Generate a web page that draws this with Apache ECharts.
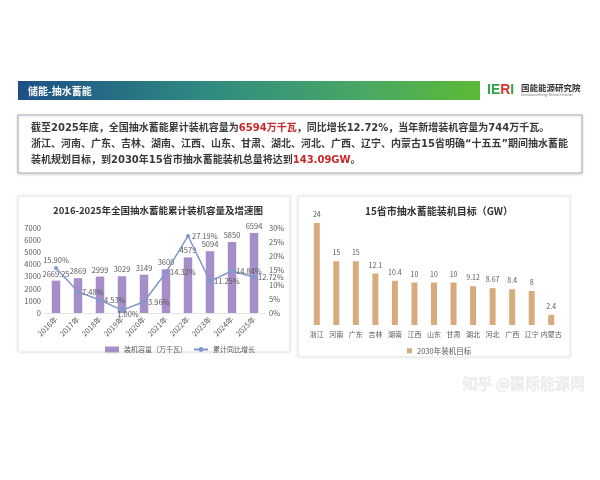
<!DOCTYPE html>
<html lang="zh">
<head>
	<meta charset="UTF-8">
	<title>抽水蓄能</title>
	<script src="https://cdn.jsdelivr.net/npm/echarts@6/dist/echarts.min.js"></script>
	<style>
		body{ margin:0; background:#fff; }
	</style>
</head>
<body>
	<div id="main" style="width:600px;height:480px;"></div>
<script type="text/javascript">
// 2016-2025 全国累计装机
var years = ['2016年','2017年','2018年','2019年','2020年','2021年','2022年','2023年','2024年','2025年'];
var capacity = [2669.25, 2869, 2999, 3029, 3149, 3600, 4579, 5094, 5850, 6594];
var growth = [15.90, 7.48, 4.53, 1.00, 3.96, 14.32, 27.19, 11.25, 14.84, 12.72];

// 15省市 2030 目标
var provinces = ['浙江','河南','广东','吉林','湖南','江西','山东','甘肃','湖北','河北','广西','辽宁','内蒙古'];
var target2030 = [24, 15, 15, 12.1, 10.4, 10, 10, 10, 9.12, 8.67, 8.4, 8, 2.4];

var FONT = '"Noto Sans CJK SC", "Noto Sans", sans-serif';
var PFONT = '"DejaVu Sans", "Noto Sans CJK SC", sans-serif';
var grey = '#595959';

var mychart = echarts.init(document.getElementById('main'));

// 第一个点的标签放在上方，其余放右侧
var growthData = growth.map(function (v, i) {
	if (i == 0) return { value: v, label: { position: 'top' } };
	if (i == 3) return { value: v, label: { position: 'bottom', offset: [6, -4] } };
	return v;
});

var option = {
	backgroundColor: '#fff',
	textStyle: { fontFamily: FONT },
	title: [
		{
			text: '2016-2025年全国抽水蓄能累计装机容量及增速图',
			left: 153, top: 201, textAlign: 'center',
			textStyle: { fontSize: 9.5, fontWeight: 'bold', color: '#333', fontFamily: FONT }
		},
		{
			text: '15省市抽水蓄能装机目标（GW）',
			left: 434, top: 201, textAlign: 'center',
			textStyle: { fontSize: 10, fontWeight: 'bold', color: '#333', fontFamily: FONT }
		}
	],
	legend: [
		{
			left: 100, top: 341, itemWidth: 14, itemHeight: 6, itemGap: 6,
			textStyle: { fontSize: 7, color: grey },
			data: [
				{ name: '装机容量（万千瓦）', icon: 'rect' },
				{ name: '累计同比增长' }
			]
		},
		{
			left: 402, top: 342, itemWidth: 5, itemHeight: 5,
			textStyle: { fontSize: 7.5, color: grey },
			data: [{ name: '2030年装机目标', icon: 'rect' }]
		}
	],
	grid: [
		{ left: 45, right: 335, top: 228, bottom: 167 },
		{ left: 307, right: 39, top: 223, bottom: 155 }
	],
	xAxis: [
		{
			type: 'category', gridIndex: 0, data: years,
			axisLine: { lineStyle: { color: '#e6e6e6' } },
			axisTick: { show: false },
			axisLabel: { rotate: 45, fontSize: 7.5, color: grey, margin: 5, interval: 0 }
		},
		{
			type: 'category', gridIndex: 1, data: provinces,
			axisLine: { show: false },
			axisTick: { show: false },
			axisLabel: { fontSize: 7, color: grey, margin: 6, interval: 0, hideOverlap: false }
		}
	],
	yAxis: [
		{
			type: 'value', gridIndex: 0, min: 0, max: 7000, interval: 1000,
			splitLine: { show: false },
			axisLabel: { fontSize: 7.5, color: grey, margin: 4, formatter: function (v) { return String(v); } }
		},
		{
			type: 'value', gridIndex: 0, min: 0, max: 30, interval: 5,
			splitLine: { show: false },
			axisLabel: { fontSize: 7.5, color: grey, margin: 4, formatter: '{value}%' }
		},
		{
			type: 'value', gridIndex: 1, min: 0, max: 24, show: false
		}
	],
	series: [
		{
			name: '装机容量（万千瓦）', type: 'bar',
			xAxisIndex: 0, yAxisIndex: 0, data: capacity,
			barWidth: 8.5,
			itemStyle: { color: '#a68ec8' },
			label: { show: true, position: 'top', distance: 3, fontSize: 7.5, color: grey }
		},
		{
			name: '累计同比增长', type: 'line',
			xAxisIndex: 0, yAxisIndex: 1, data: growthData,
			symbol: 'circle', symbolSize: 4,
			lineStyle: { color: '#7f98c9', width: 1.5 },
			itemStyle: { color: '#7f98c9' },
			label: {
				show: true, position: 'right', distance: 2, fontSize: 7.5, color: grey,
				formatter: function (p) { return p.value.toFixed(2) + '%'; }
			}
		},
		{
			name: '2030年装机目标', type: 'bar',
			xAxisIndex: 1, yAxisIndex: 2, data: target2030,
			barWidth: 6,
			itemStyle: { color: '#d8ab7d' },
			label: { show: true, position: 'top', distance: 5, fontSize: 7, color: grey }
		}
	],
	graphic: [
		// 页眉
		{
			type: 'rect', shape: { x: 18, y: 81, width: 462, height: 19 }, z: -1,
			style: {
				fill: new echarts.graphic.LinearGradient(0, 0, 1, 0, [
					{ offset: 0, color: '#1d4f86' },
					{ offset: 0.4, color: '#2f8a82' },
					{ offset: 0.75, color: '#49a864' },
					{ offset: 1, color: '#5cba35' }
				])
			}
		},
		{
			type: 'text', x: 28, y: 91,
			style: { text: '储能-抽水蓄能', fill: '#fff', font: 'bold 10px ' + FONT, verticalAlign: 'middle' }
		},
		{
			type: 'text', x: 487, y: 90,
			style: {
				text: '{g|I}{g|E}{r|R}{g|I}', verticalAlign: 'middle',
				rich: {
					g: { fill: '#2fa64a', font: 'bold 14px Arial' },
					r: { fill: '#d7352d', font: 'bold 14px Arial' }
				}
			}
		},
		{
			type: 'text', x: 521, y: 88,
			style: { text: '国能能源研究院', fill: '#333', font: 'bold 8.5px ' + FONT, verticalAlign: 'middle' }
		},
		{
			type: 'text', x: 521, y: 95.5,
			style: { text: 'International Energy Research Institute', fill: '#777', font: '3px Arial', verticalAlign: 'middle' }
		},
		// 说明文字框
		{
			type: 'rect', shape: { x: 18, y: 115, width: 564, height: 58 }, z: -1,
			style: { fill: '#fff', stroke: '#a9a9b8', lineWidth: 1, shadowBlur: 3, shadowColor: 'rgba(0,0,0,0.15)', shadowOffsetY: 1 }
		},
		{
			type: 'text', x: 31, y: 128,
			style: {
				text: '截至2025年底，全国抽水蓄能累计装机容量为{r|6594万千瓦}，同比增长12.72%，当年新增装机容量为744万千瓦。',
				fill: '#3a3a3a', font: 'bold 10px ' + PFONT, verticalAlign: 'middle',
				rich: { r: { fill: '#c62828', font: 'bold 10px ' + PFONT } }
			}
		},
		{
			type: 'text', x: 31, y: 144,
			style: {
				text: '浙江、河南、广东、吉林、湖南、江西、山东、甘肃、湖北、河北、广西、辽宁、内蒙古15省明确“十五五”期间抽水蓄能',
				fill: '#3a3a3a', font: 'bold 10px ' + PFONT, verticalAlign: 'middle'
			}
		},
		{
			type: 'text', x: 31, y: 160,
			style: {
				text: '装机规划目标，到2030年15省市抽水蓄能装机总量将达到{r|143.09GW}。',
				fill: '#3a3a3a', font: 'bold 10px ' + PFONT, verticalAlign: 'middle',
				rich: { r: { fill: '#c62828', font: 'bold 10px ' + PFONT } }
			}
		},
		// 图表面板
		{
			type: 'rect', shape: { x: 18, y: 196, width: 272, height: 156 }, z: -1,
			style: { fill: '#fff', stroke: '#e8e8e8', lineWidth: 1, shadowBlur: 3, shadowColor: 'rgba(0,0,0,0.08)' }
		},
		{
			type: 'rect', shape: { x: 298, y: 196, width: 272, height: 161 }, z: -1,
			style: { fill: '#fff', stroke: '#e8e8e8', lineWidth: 1, shadowBlur: 3, shadowColor: 'rgba(0,0,0,0.08)' }
		},
		// 水印
		{
			type: 'text', x: 585, y: 383,
			style: {
				text: '知乎 @国际能源网', fill: '#f4f4f4', stroke: '#c4c4c4', lineWidth: 0.4,
				font: '15px ' + FONT, align: 'right', verticalAlign: 'middle'
			}
		}
	]
};

mychart.setOption(option);
</script>
</body>
</html>
